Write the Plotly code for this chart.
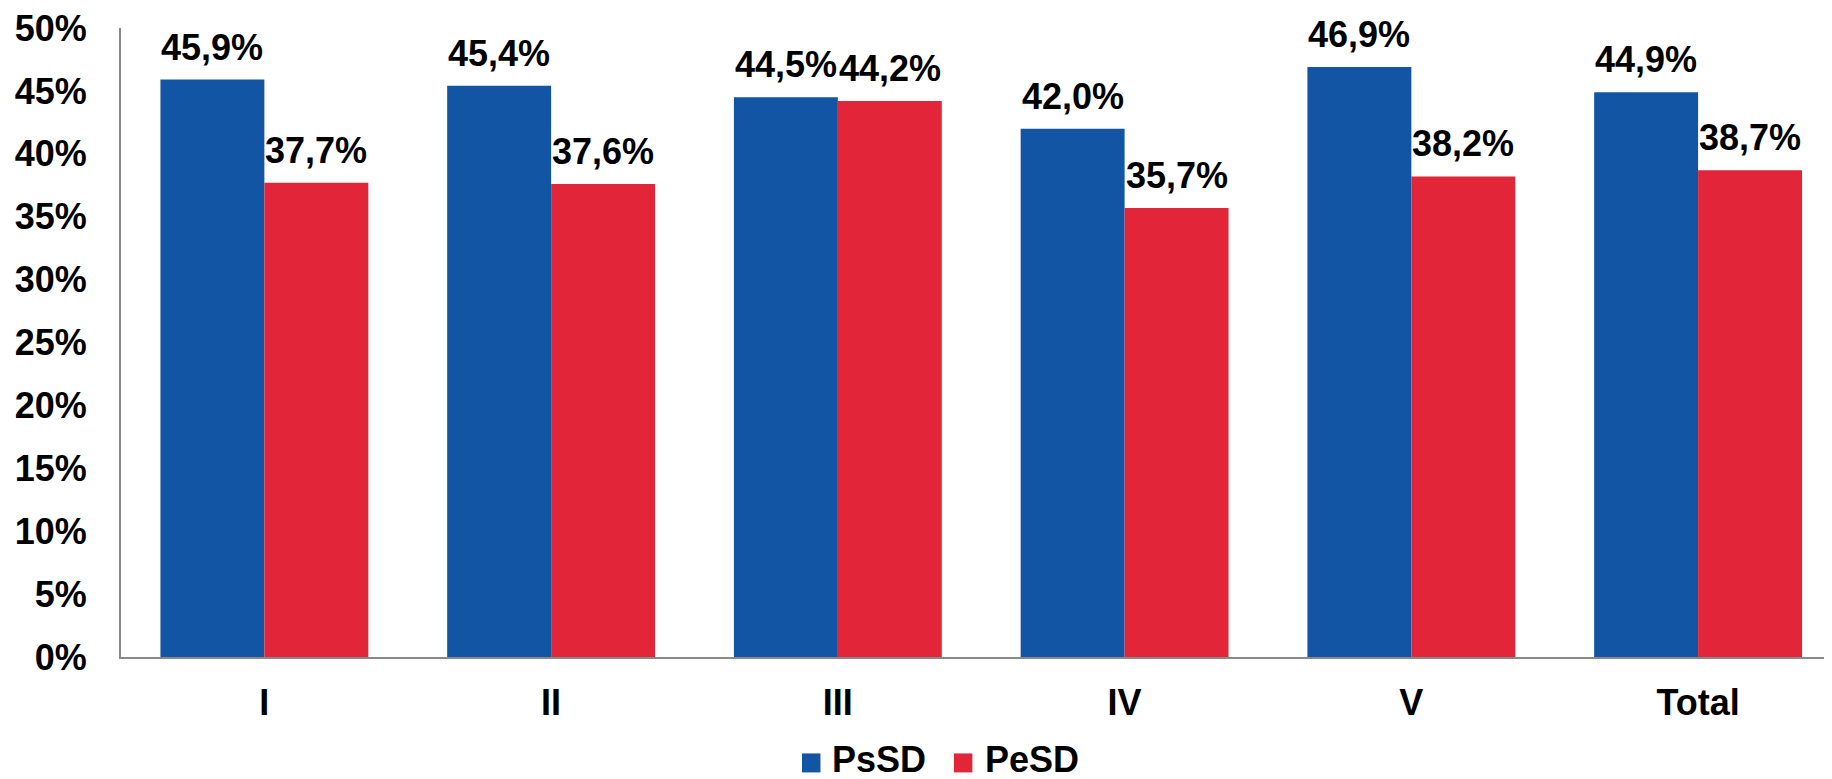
import plotly.graph_objects as go

categories = ["I", "II", "III", "IV", "V", "Total"]
psd_values = [45.9, 45.4, 44.5, 42.0, 46.9, 44.9]
pesd_values = [37.7, 37.6, 44.2, 35.7, 38.2, 38.7]
series_names = ["PsSD", "PeSD"]
y_ticks = [0, 5, 10, 15, 20, 25, 30, 35, 40, 45, 50]
y_tick_labels = [f"{v}%" for v in y_ticks]

BLUE = "#1255A5"
RED = "#E22538"
FONT = "Liberation Sans, Arial, sans-serif"
FS = 36
bold_font = dict(family=FONT, size=FS, color="black", weight="bold")


def fmt(v):
    return f"{v:.1f}".replace(".", ",") + "%"


fig = go.Figure()
fig.add_trace(go.Bar(x=categories, y=psd_values, name=series_names[0],
                     marker=dict(color=BLUE, line=dict(width=0))))
fig.add_trace(go.Bar(x=categories, y=pesd_values, name=series_names[1],
                     marker=dict(color=RED, line=dict(width=0))))

annotations = []
for vals, shift in ((psd_values, -52), (pesd_values, 52)):
    for c, v in zip(categories, vals):
        annotations.append(dict(x=c, y=v, xref="x", yref="y", text=fmt(v),
                                showarrow=False, xanchor="center", yanchor="bottom",
                                xshift=shift, yshift=10, font=bold_font))

# manual legend (reference legend sits at the very bottom edge)
shapes = []
legend_items = [(series_names[0], BLUE, 0.398, 0.4144), (series_names[1], RED, 0.4868, 0.5038)]
for name, col, sx, tx in legend_items:
    shapes.append(dict(type="rect", xref="paper", yref="paper",
                       x0=sx, x1=sx + 0.0108, y0=-0.1835, y1=-0.1533,
                       fillcolor=col, line=dict(width=0)))
    annotations.append(dict(x=tx, y=-0.1625, xref="paper", yref="paper", text=name,
                            showarrow=False, xanchor="left", yanchor="middle",
                            font=bold_font))

# page body adds an 8px offset; margins compensate for it
fig.update_layout(
    width=1832, height=779,
    margin=dict(l=113, r=8, t=20, b=130),
    paper_bgcolor="white", plot_bgcolor="white",
    barmode="group", bargap=0.275, bargroupgap=0,
    font=bold_font,
    showlegend=False,
    annotations=annotations,
    shapes=shapes,
)
fig.update_xaxes(range=[-0.5, 5.467], showline=True, linecolor="#898989", linewidth=2,
                 showgrid=False, ticks="", ticklabelstandoff=13, automargin=False,
                 tickfont=bold_font)
fig.update_yaxes(range=[0, 50], showline=True, linecolor="#898989", linewidth=2,
                 showgrid=False, zeroline=False, ticks="", automargin=False,
                 tickvals=y_ticks, ticktext=y_tick_labels, ticklabelstandoff=25,
                 ticklabeloverflow="allow", tickfont=bold_font)

fig.write_html("out.html")
